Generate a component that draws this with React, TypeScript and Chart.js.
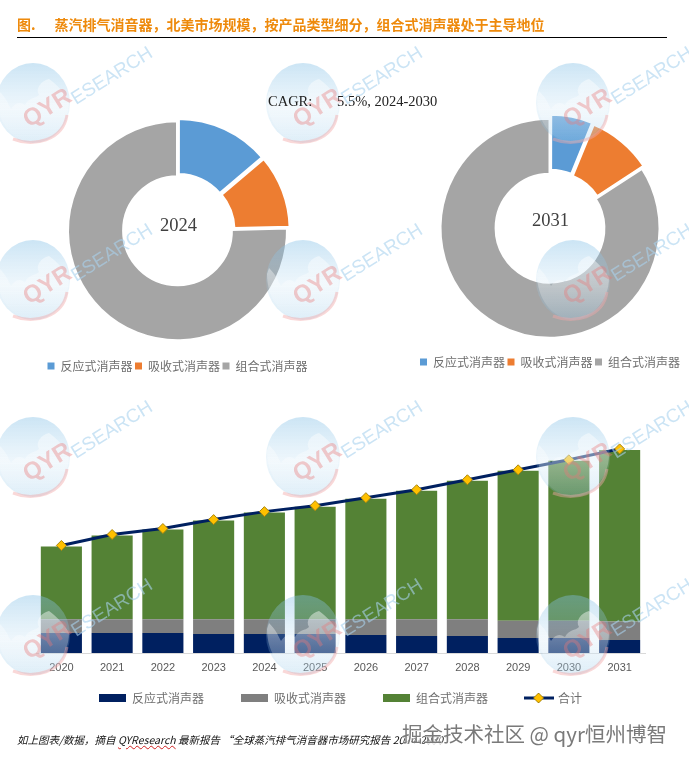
import React, { useEffect, useRef } from "react";
import { Chart, registerables } from "chart.js";

Chart.register(...registerables);

const productLabels = ["反应式消声器", "吸收式消声器", "组合式消声器"];
const share2024 = [13.8, 10.8, 75.4];
const share2031 = [6.2, 9.6, 84.2];
const years = ["2020", "2021", "2022", "2023", "2024", "2025", "2026", "2027", "2028", "2029", "2030", "2031"];
const reactive = [20, 20, 20, 19, 19, 19, 18, 17, 17, 15, 15, 13];
const absorptive = [14, 14, 14, 15, 15, 15, 16, 17, 17, 17.5, 17.5, 18.7];
const combined = [73, 84, 90, 99, 107, 113, 121, 129, 139, 150.5, 160.5, 172.3];
const totals = [108, 119, 125, 134, 142, 148, 156, 164, 174, 184, 194, 205];
const totalLabel = "合计";

const CJK = '"Noto Sans CJK SC", "Noto Sans", sans-serif';
const SERIF = '"Liberation Serif", "DejaVu Serif", serif';
const pieColors = ["#5B9BD5", "#ED7D31", "#A5A5A5"];

function makeLineSwatch(): HTMLCanvasElement {
  const c = document.createElement("canvas");
  c.width = 30;
  c.height = 12;
  const g = c.getContext("2d")!;
  g.strokeStyle = "#002060";
  g.lineWidth = 3;
  g.beginPath();
  g.moveTo(0, 6);
  g.lineTo(30, 6);
  g.stroke();
  g.fillStyle = "#FFC000";
  g.strokeStyle = "#A9860F";
  g.lineWidth = 1;
  g.beginPath();
  g.moveTo(15, 1);
  g.lineTo(20, 6);
  g.lineTo(15, 11);
  g.lineTo(10, 6);
  g.closePath();
  g.fill();
  g.stroke();
  return c;
}

function donutConfig(values: number[], offsets: number[]): any {
  return {
    type: "doughnut",
    data: {
      labels: productLabels,
      datasets: [
        {
          data: values,
          backgroundColor: pieColors,
          borderColor: "#FFFFFF",
          borderWidth: 3,
          offset: offsets,
        },
      ],
    },
    options: {
      responsive: false,
      animation: false,
      radius: 110,
      cutout: "49%",
      plugins: {
        tooltip: { enabled: false },
        legend: {
          position: "bottom",
          labels: {
            boxWidth: 7,
            boxHeight: 7,
            padding: 2.5,
            color: "#6E6E6E",
            font: { family: CJK, size: 12 },
            generateLabels: (chart: any) =>
              (Chart as any).overrides.doughnut.plugins.legend.labels
                .generateLabels(chart)
                .map((it: any) => ({ ...it, lineWidth: 0, strokeStyle: "transparent" })),
          },
        },
      },
    },
  };
}

function Watermark({ x, y }: { x: number; y: number }) {
  return (
    <g transform={`translate(${x} ${y})`}>
      <ellipse cx={0} cy={0} rx={37} ry={40} fill="url(#globe)" />
      <path
        d="M-34 -12 C-28 -6 -26 -2 -22 6 C-18 0 -14 -2 -8 2 C-4 -6 2 -4 6 -8 C2 -14 8 -22 16 -24 C24 -18 32 -10 36 -2 C36 20 20 38 0 40 C-22 38 -36 18 -36 -6 Z"
        fill="url(#land)"
      />
      <path d="M-20 36 C0 44 30 38 34 12" fill="none" stroke="#F2A8A8" strokeWidth={3} opacity={0.45} />
      <text
        transform="translate(-4 25) rotate(-32)"
        fontFamily="Liberation Sans, sans-serif"
        fontWeight="bold"
        fontSize={24}
        fill="#E87878"
        opacity={0.38}
      >
        QYR
      </text>
      <text
        transform="translate(43 2) rotate(-32)"
        fontFamily="Liberation Sans, sans-serif"
        fontSize={19}
        fill="#A9D2EE"
        opacity={0.6}
      >
        ESEARCH
      </text>
    </g>
  );
}

export default function App() {
  const leftRef = useRef<HTMLCanvasElement>(null);
  const rightRef = useRef<HTMLCanvasElement>(null);
  const barRef = useRef<HTMLCanvasElement>(null);

  useEffect(() => {
    const left = new Chart(leftRef.current!, donutConfig(share2024, [8, 8, 0]));
    const right = new Chart(rightRef.current!, donutConfig(share2031, [10, 8, 0]));
    const swatch = makeLineSwatch();
    const bars = new Chart(barRef.current!, {
      type: "bar",
      data: {
        labels: years,
        datasets: [
          { type: "line", label: totalLabel, data: totals, order: 0, borderColor: "#002060", borderWidth: 3, pointStyle: "rectRot", pointRadius: 5, pointBackgroundColor: "#FFC000", pointBorderColor: "#A9860F", pointBorderWidth: 1, tension: 0 },
          { label: productLabels[0], data: reactive, order: 1, backgroundColor: "#002060", stack: "s", categoryPercentage: 1, barPercentage: 0.81 },
          { label: productLabels[1], data: absorptive, order: 1, backgroundColor: "#7F7F7F", stack: "s", categoryPercentage: 1, barPercentage: 0.81 },
          { label: productLabels[2], data: combined, order: 1, backgroundColor: "#548235", stack: "s", categoryPercentage: 1, barPercentage: 0.81 },
        ] as any,
      },
      options: {
        responsive: false,
        animation: false,
        layout: { padding: { left: 36, right: 36, top: 24 } },
        scales: {
          x: {
            stacked: true,
            grid: { display: false },
            border: { color: "#D9D9D9", display: true },
            ticks: { color: "#595959", font: { family: '"Liberation Sans", sans-serif', size: 11 }, maxRotation: 0, padding: 0 },
            afterFit: (scale: any) => {
              scale.height = 38;
            },
          },
          y: { stacked: true, display: false, min: 0, max: 230 },
        },
        plugins: {
          tooltip: { enabled: false },
          legend: {
            position: "bottom",
            labels: {
              usePointStyle: true,
              pointStyleWidth: 27,
              boxHeight: 8,
              padding: 1,
              color: "#6E6E6E",
              font: { family: CJK, size: 12 },
              sort: (a: any, b: any) => (a.text === totalLabel ? 1 : b.text === totalLabel ? -1 : 0),
              generateLabels: (chart: any) => {
                const items = Chart.defaults.plugins.legend.labels.generateLabels(chart);
                return items.map((it: any) => ({
                  ...it,
                  text: it.text === totalLabel ? it.text : it.text + "\u3000\u3000\u3000",
                  pointStyle: it.text === totalLabel ? swatch : "rect",
                  lineWidth: 0,
                  strokeStyle: "transparent",
                }));
              },
            },
          },
        },
      } as any,
    });
    return () => {
      left.destroy();
      right.destroy();
      bars.destroy();
    };
  }, []);

  const absolute: React.CSSProperties = { position: "absolute", whiteSpace: "pre", margin: 0 };

  return (
    <div style={{ position: "fixed", left: 0, top: 0, width: 689, height: 767, overflow: "hidden", background: "#FFFFFF" }}>
      <canvas ref={leftRef} width={355} height={278} style={{ position: "absolute", left: 0, top: 104 }} />
      <canvas ref={rightRef} width={278} height={275} style={{ position: "absolute", left: 411, top: 103 }} />
      <canvas ref={barRef} width={681} height={314} style={{ position: "absolute", left: 0, top: 400 }} />
      <svg width={689} height={767} style={{ position: "absolute", left: 0, top: 0, pointerEvents: "none" }}>
        <defs>
          <linearGradient id="globe" x1="0" y1="0" x2="0" y2="1">
            <stop offset="0" stopColor="#84C0E6" stopOpacity={0.42} />
            <stop offset="0.55" stopColor="#A8D3EE" stopOpacity={0.2} />
            <stop offset="1" stopColor="#7FBDE4" stopOpacity={0.28} />
          </linearGradient>
          <linearGradient id="land" x1="0" y1="0" x2="0" y2="1">
            <stop offset="0" stopColor="#FFFFFF" stopOpacity={0.45} />
            <stop offset="0.45" stopColor="#FFFFFF" stopOpacity={0.3} />
            <stop offset="1" stopColor="#FFFFFF" stopOpacity={0.05} />
          </linearGradient>
        </defs>
        {[103, 280, 457, 635].map((y) =>
          [33, 303, 573].map((x) => <Watermark key={`${x}-${y}`} x={x} y={y} />)
        )}
      </svg>
      <div style={{ ...absolute, left: 17, top: 14, fontFamily: CJK, fontWeight: 700, fontSize: 14, lineHeight: "20px", color: "#EE8A0C" }}>
        {"图.      蒸汽排气消音器，北美市场规模，按产品类型细分，组合式消声器处于主导地位"}
      </div>
      <div style={{ position: "absolute", left: 17, top: 37, width: 650, height: 1, background: "#000000" }} />
      <div style={{ ...absolute, left: 268, top: 92, fontFamily: SERIF, fontSize: 14.5, lineHeight: "18px", color: "#222222" }}>CAGR:</div>
      <div style={{ ...absolute, left: 337, top: 92, fontFamily: SERIF, fontSize: 14.5, lineHeight: "18px", color: "#222222" }}>5.5%, 2024-2030</div>
      <div style={{ ...absolute, left: 160, top: 214, fontFamily: SERIF, fontSize: 18.5, lineHeight: "22px", color: "#404040" }}>2024</div>
      <div style={{ ...absolute, left: 532, top: 209, fontFamily: SERIF, fontSize: 18.5, lineHeight: "22px", color: "#404040" }}>2031</div>
      <div style={{ ...absolute, left: 17, top: 732, fontFamily: CJK, fontStyle: "italic", fontSize: 10.5, lineHeight: "15px", color: "#111111" }}>
        {"如上图表/数据，摘自 "}
        <span style={{ textDecoration: "underline wavy #D02020 1px" }}>QYResearch</span>
        {" 最新报告 “全球蒸汽排气消音器市场研究报告 2024-2030”"}
      </div>
      <div style={{ ...absolute, left: 402, top: 720, fontFamily: CJK, fontSize: 20.5, lineHeight: "26px", color: "#7A7A7A", textShadow: "0 0 2px #FFFFFF, 1px 1px 1px #FFFFFF" }}>
        掘金技术社区 @ qyr恒州博智
      </div>
    </div>
  );
}
